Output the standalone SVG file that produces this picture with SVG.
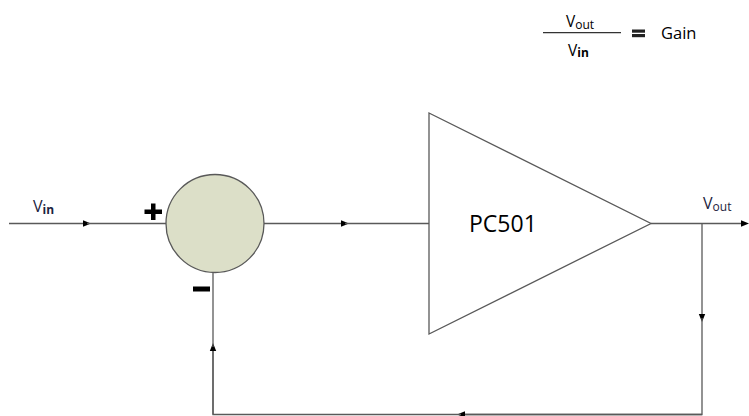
<svg xmlns="http://www.w3.org/2000/svg" width="749" height="416" viewBox="0 0 749 416">
<style>
.ln{stroke:#595959;stroke-width:1.3;fill:none}
.t{font-family:"Open Sans","Noto Sans",sans-serif;fill:#000}
.v{font-family:"Open Sans","Noto Sans",sans-serif;fill:#1c2340}
</style>
<defs>
<marker id="ah" viewBox="0 0 10 10" refX="5" refY="5" markerWidth="8" markerHeight="8" markerUnits="userSpaceOnUse" orient="auto">
<path d="M0,1 L10,5 L0,9 Z" fill="#000"/>
</marker>
</defs>
<rect width="749" height="416" fill="#fff"/>
<g id="formula">
<text class="t" x="566" y="27" font-size="15.5">V<tspan font-size="12" dy="1.5">out</tspan></text>
<line x1="543" y1="32.7" x2="621" y2="32.7" stroke="#333" stroke-width="1.3"/>
<text class="t" x="568" y="55.5" font-size="15.5">V<tspan font-size="12" font-weight="bold" dy="1.5">in</tspan></text>
<rect x="632" y="29.5" width="13" height="3.2" fill="#222"/>
<rect x="632" y="34" width="13" height="3.2" fill="#222"/>
<text class="t" x="661" y="38.5" font-size="16.5">Gain</text>
</g>
<g id="connectors">
<path class="ln" d="M9,223.5 L87,223.5" marker-end="url(#ah)"/>
<path class="ln" d="M87,223.5 L166,223.5"/>
<path class="ln" d="M264,223.5 L345,223.5" marker-end="url(#ah)"/>
<path class="ln" d="M345,223.5 L429,223.5"/>
<path class="ln" d="M651,223.5 L745,223.5" marker-end="url(#ah)"/>
<path class="ln" d="M702,223.5 L702,318" marker-end="url(#ah)"/>
<path class="ln" d="M702,318 L702,414.5 L461,414.5"/>
<path class="ln" d="M702,414.5 L461,414.5" marker-end="url(#ah)"/>
<path class="ln" d="M461,414.5 L213,414.5 L213,347"/>
<path class="ln" d="M213,414.5 L213,347" marker-end="url(#ah)"/>
<path class="ln" d="M213,347 L213,272"/>
</g>
<g id="vin-label"><text class="v" x="33" y="212" font-size="16">V<tspan font-size="12" font-weight="bold" dy="1.5">in</tspan></text></g>
<g id="summer">
<circle cx="215" cy="223.5" r="49" fill="#dcdfc8" stroke="#595959" stroke-width="1.3"/>
<rect x="144.5" y="209.5" width="17.5" height="4.5" fill="#000"/>
<rect x="151" y="203.5" width="4.5" height="16.5" fill="#000"/>
<rect x="193" y="286.5" width="17" height="5" fill="#000"/>
</g>
<g id="amplifier">
<polygon points="429,113 651,223.5 429,334" fill="#fff" stroke="#595959" stroke-width="1.3"/>
<text class="t" x="469" y="232" font-size="23">PC501</text>
</g>
<g id="vout-label"><text class="v" x="703" y="209" font-size="16">V<tspan font-size="12" dy="2">out</tspan></text></g>
</svg>
